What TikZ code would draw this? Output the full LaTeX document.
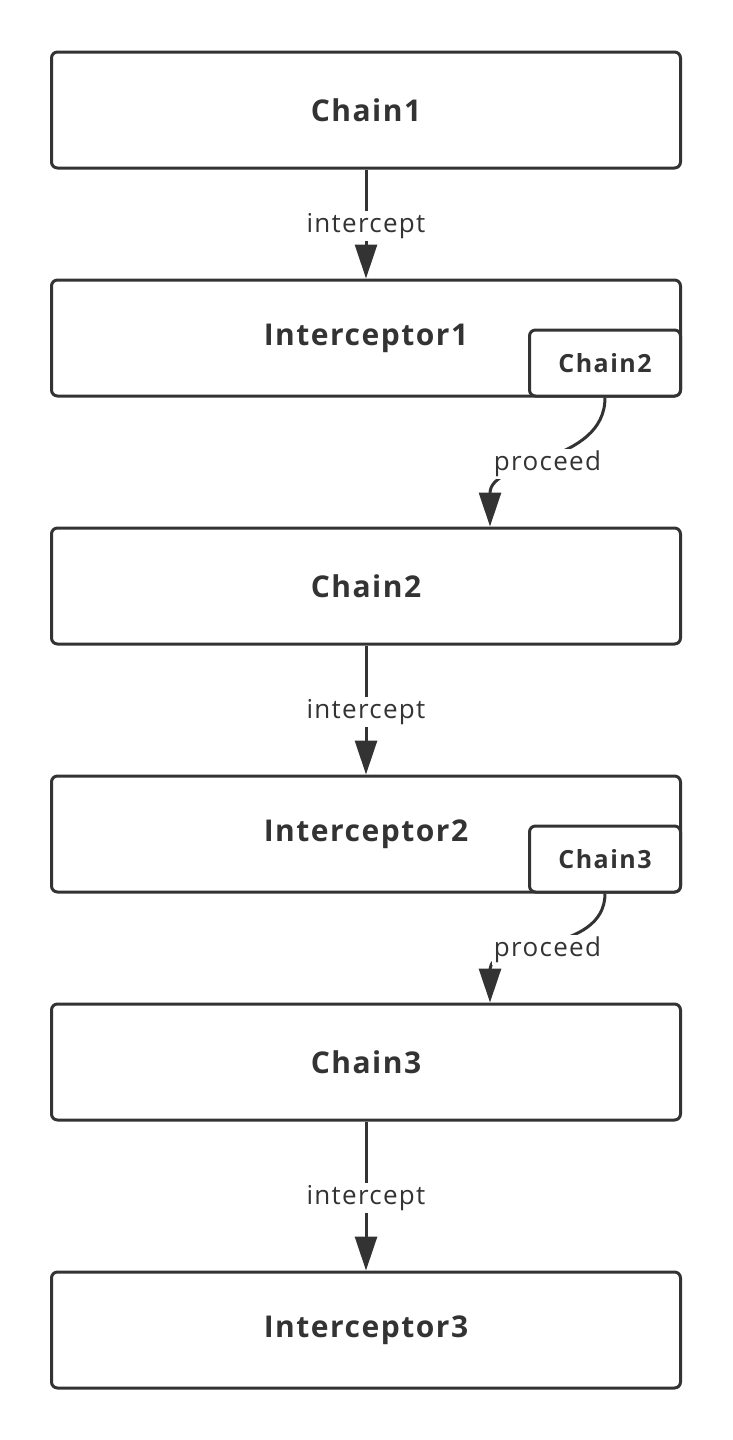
\documentclass[tikz,border=0pt]{standalone}
\usepackage{fontspec}
\setmainfont{Open Sans}
\usepackage{tikz}
\usetikzlibrary{arrows.meta,calc,positioning}
\definecolor{cdark}{HTML}{333333}
\tikzset{
  >={Triangle[length=34pt,width=22pt]},
  cbox/.style={draw=cdark, line width=3pt, rounded corners=6pt, fill=white,
               minimum width=629pt, minimum height=116pt, text=cdark,
               font=\fontsize{30}{34}\selectfont\bfseries\addfontfeatures{LetterSpace=5}},
  csub/.style={draw=cdark, line width=3pt, rounded corners=6pt, fill=white,
               minimum width=151pt, minimum height=66pt, text=cdark,
               font=\fontsize{25}{30}\selectfont\bfseries\addfontfeatures{LetterSpace=6}},
  clink/.style={->, cdark, line width=3pt},
  clbl/.style={fill=white, text=cdark, inner sep=2pt, yshift=-2pt,
               font=\fontsize{26}{30}\selectfont\addfontfeatures{LetterSpace=5}},
}

\begin{document}
\begin{tikzpicture}[x=1pt,y=-1pt]
  \useasboundingbox (0,0) rectangle (732,1440);

  % the chain of boxes
  \node[cbox] (chain1) at (366,110) {Chain1};
  \node[cbox] (icpt1)  at (366,338) {Interceptor1};
  \node[cbox] (chain2) at (366,586) {Chain2};
  \node[cbox] (icpt2)  at (366,834) {Interceptor2};
  \node[cbox] (chain3) at (366,1062) {Chain3};
  \node[cbox] (icpt3)  at (366,1330) {Interceptor3};

  % inner chains
  \node[csub, anchor=south east] (sub2) at (icpt1.south east) {Chain2};
  \node[csub, anchor=south east] (sub3) at (icpt2.south east) {Chain3};

  % intercept
  \foreach \a/\b in {chain1/icpt1, chain2/icpt2, chain3/icpt3} {
    \draw[clink] (\a) -- (\b);
    \begin{scope}
      \clip ($(\a.south)!0.5!(\b.north)$) ++(-70,-18) rectangle ++(128,40);
      \node[clbl] at ($(\a.south)!0.5!(\b.north)$) {intercept};
    \end{scope}
  }

  % proceed
  \foreach \s/\t in {sub2/chain2, sub3/chain3} {
    \draw[clink] (\s.south) to[out=-90,in=90] coordinate[midway] (m\s)
      ([xshift=124pt]\t.north);
    \begin{scope}
      \clip (m\s) ++(-60,-18) rectangle ++(112,40);
      \node[clbl] at (m\s) {proceed};
    \end{scope}
  }

\end{tikzpicture}
\end{document}
